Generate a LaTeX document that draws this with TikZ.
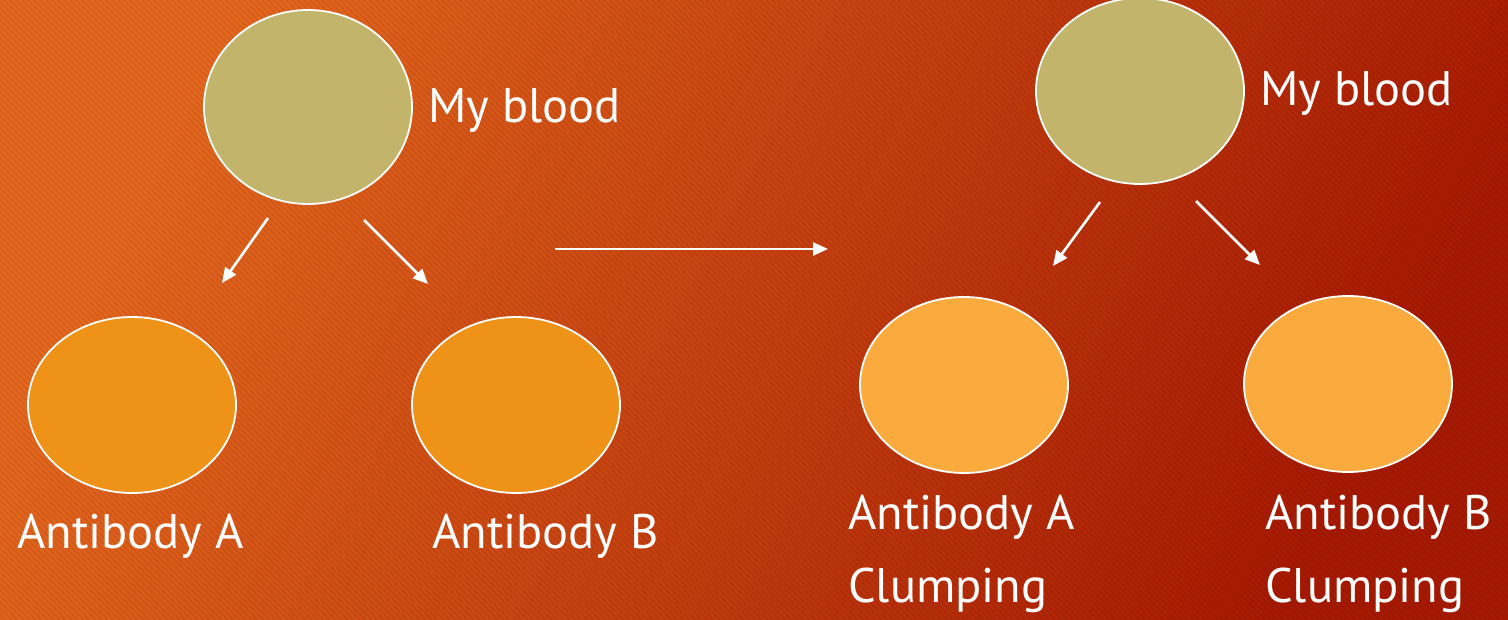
\documentclass[tikz,border=0pt]{standalone}
\usepackage{fontspec}
\setmainfont{PT Sans}
\usetikzlibrary{positioning,arrows.meta,shapes.geometric}

\definecolor{bgtop}{RGB}{230,104,30}
\definecolor{bgmid}{RGB}{208,64,14}
\definecolor{bgbot}{RGB}{168,26,2}
\definecolor{bloodfill}{RGB}{194,180,106}
\definecolor{abfill}{RGB}{238,147,24}
\definecolor{clumpfill}{RGB}{251,170,62}

\begin{document}
\begin{tikzpicture}[x=1pt, y=-1pt, >={Triangle[length=15pt,width=13pt]},
      font=\fontsize{48.5}{58}\selectfont,
      cell/.style={ellipse, draw=white, line width=1.8pt, minimum width=208pt, minimum height=176pt, inner sep=0pt},
      lab/.style={text=white, inner sep=0pt, anchor=base west},
      link/.style={->, draw=white, line width=2.6pt}]
      \useasboundingbox (0,0) rectangle (1508,620);
      % background with faint stripes
      \shade[left color=bgtop, middle color=bgmid, right color=bgbot, shading angle=62] (0,0) rectangle (1508,620);
      \begin{scope}
        \clip (0,0) rectangle (1508,620);
        \foreach \s in {-620,-614,...,1508}
          \draw[black, opacity=0.07, line width=2pt] (\s,0) -- ++(620,620);
      \end{scope}
      % left half
      \node[cell, fill=bloodfill, minimum height=194pt] (blood1) at (308,107) {};
      \node[cell, fill=abfill] (abA1) at (132,405) {};
      \node[cell, fill=abfill] (abB1) at (516,405) {};
      \node[lab] (tblood1) at (428,123) {My blood};
      \node[lab] (tabA1) at (17,548) {Antibody A};
      \node[lab] (tabB1) at (432,548) {Antibody B};
      % right half
      \node[cell, fill=bloodfill, minimum height=186pt] (blood2) at (1140,91) {};
      \node[cell, fill=clumpfill] (abA2) at (964,385) {};
      \node[cell, fill=clumpfill] (abB2) at (1348,384) {};
      \node[lab] (tblood2) at (1260,106) {My blood};
      \node[lab] (tabA2) at (848,529) {Antibody A};
      \node[lab] (tclA2) at (848,602) {Clumping};
      \node[lab] (tabB2) at (1265,529) {Antibody B};
      \node[lab] (tclB2) at (1265,602) {Clumping};
      % arrows
      \coordinate (a1s) at (268,218); \coordinate (a1e) at (222,283);
      \coordinate (a2s) at (364,220); \coordinate (a2e) at (428,284);
      \coordinate (mids) at (555,249); \coordinate (mide) at (828,249);
      \coordinate (a3s) at (1100,202); \coordinate (a3e) at (1053,266);
      \coordinate (a4s) at (1196,201); \coordinate (a4e) at (1260,265);
      \draw[link] (a1s) -- (a1e);
      \draw[link] (a2s) -- (a2e);
      \draw[link] (mids) -- (mide);
      \draw[link] (a3s) -- (a3e);
      \draw[link] (a4s) -- (a4e);
    \end{tikzpicture}
\end{document}
